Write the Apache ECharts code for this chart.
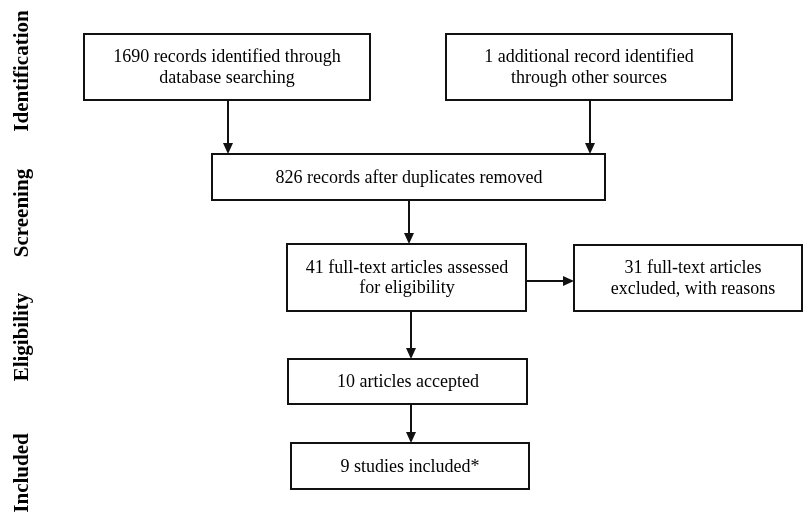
<!DOCTYPE html>
<html>
<head>
<meta charset="utf-8">
<script src="https://cdn.jsdelivr.net/npm/echarts@6/dist/echarts.min.js"></script>
<style>html,body{margin:0;padding:0;background:#fff;}#c{width:803px;height:517px;}</style>
</head>
<body>
<div id="c"></div>
<script>
// ---- content ----
const stages = ['Identification', 'Screening', 'Eligibility', 'Included'];
const counts = [1690, 1, 826, 41, 31, 10, 9];
const boxTexts = [
  counts[0] + ' records identified through\ndatabase searching',
  counts[1] + ' additional record identified\nthrough other sources',
  counts[2] + ' records after duplicates removed',
  counts[3] + ' full-text articles assessed\nfor eligibility',
  counts[4] + ' full-text articles\nexcluded, with reasons',
  counts[5] + ' articles accepted',
  counts[6] + ' studies included*'
];
// links between boxes (from index, to index)
const links = [[0, 2], [1, 2], [2, 3], [3, 4], [3, 5], [5, 6]];

// ---- layout (canvas units) ----
const boxLayout = [ // x0, y0, x1, y1, textCx
  [84, 34, 370, 100, 227],
  [446, 34, 732, 100, 589],
  [212, 154, 605, 200, 409],
  [287, 244, 526, 311, 407],
  [574, 245, 802, 311, 693],
  [288, 359, 527, 404, 408],
  [291, 443, 529, 489, 410]
];
const arrowLayout = [ // x0, y0, x1, y1
  [228, 100, 228, 154],
  [590, 100, 590, 154],
  [409, 200, 409, 244],
  [526, 281, 574, 281],
  [411, 311, 411, 359],
  [411, 404, 411, 443]
];
const stageLayout = [[23, 71], [23, 213], [23, 337], [23, 473]];

const FONT = '"Liberation Serif", "Times New Roman", serif';
const INK = '#111';

const boxData = boxTexts.map((t, i) => [...boxLayout[i], i]);
const arrowData = links.map((l, i) => [...arrowLayout[i], i]);
const stageData = stages.map((s, i) => [...stageLayout[i], i]);

const chart = echarts.init(document.getElementById('c'), null, {renderer: 'canvas'});
chart.setOption({
  animation: false,
  backgroundColor: '#fff',
  grid: {left: 0, right: 0, top: 0, bottom: 0},
  xAxis: {type: 'value', min: 0, max: 803, show: false},
  yAxis: {type: 'value', min: 0, max: 517, inverse: true, show: false},
  series: [
    {
      type: 'custom',
      name: 'boxes',
      data: boxData,
      renderItem: function (params, api) {
        const p0 = api.coord([api.value(0), api.value(1)]);
        const p1 = api.coord([api.value(2), api.value(3)]);
        const tc = api.coord([api.value(4), (api.value(1) + api.value(3)) / 2]);
        const idx = api.value(5);
        return {
          type: 'group',
          children: [
            {
              type: 'rect',
              shape: {x: p0[0], y: p0[1], width: p1[0] - p0[0], height: p1[1] - p0[1]},
              style: {fill: '#fff', stroke: INK, lineWidth: 2}
            },
            {
              type: 'text',
              style: {
                text: boxTexts[idx], x: tc[0], y: tc[1] + 1,
                align: 'center', verticalAlign: 'middle',
                font: '18px ' + FONT, lineHeight: 20.5, fill: '#000'
              }
            }
          ]
        };
      }
    },
    {
      type: 'custom',
      name: 'arrows',
      data: arrowData,
      renderItem: function (params, api) {
        const a = api.coord([api.value(0), api.value(1)]);
        const b = api.coord([api.value(2), api.value(3)]);
        const dx = b[0] - a[0], dy = b[1] - a[1];
        const len = Math.sqrt(dx * dx + dy * dy);
        const ux = dx / len, uy = dy / len;
        const hl = 11, hw = 5;
        const base = [b[0] - ux * hl, b[1] - uy * hl];
        return {
          type: 'group',
          children: [
            {
              type: 'line',
              shape: {x1: a[0], y1: a[1], x2: base[0], y2: base[1]},
              style: {stroke: INK, lineWidth: 2}
            },
            {
              type: 'polygon',
              shape: {points: [
                [b[0], b[1]],
                [base[0] - uy * hw, base[1] + ux * hw],
                [base[0] + uy * hw, base[1] - ux * hw]
              ]},
              style: {fill: INK}
            }
          ]
        };
      }
    },
    {
      type: 'custom',
      name: 'stages',
      data: stageData,
      renderItem: function (params, api) {
        const p = api.coord([api.value(0), api.value(1)]);
        const idx = api.value(2);
        return {
          type: 'text',
          x: p[0], y: p[1],
          rotation: Math.PI / 2,
          style: {
            text: stages[idx], x: 0, y: 0,
            align: 'center', verticalAlign: 'middle',
            font: 'bold 21px ' + FONT, fill: '#000'
          }
        };
      }
    }
  ]
});
</script>
</body>
</html>
